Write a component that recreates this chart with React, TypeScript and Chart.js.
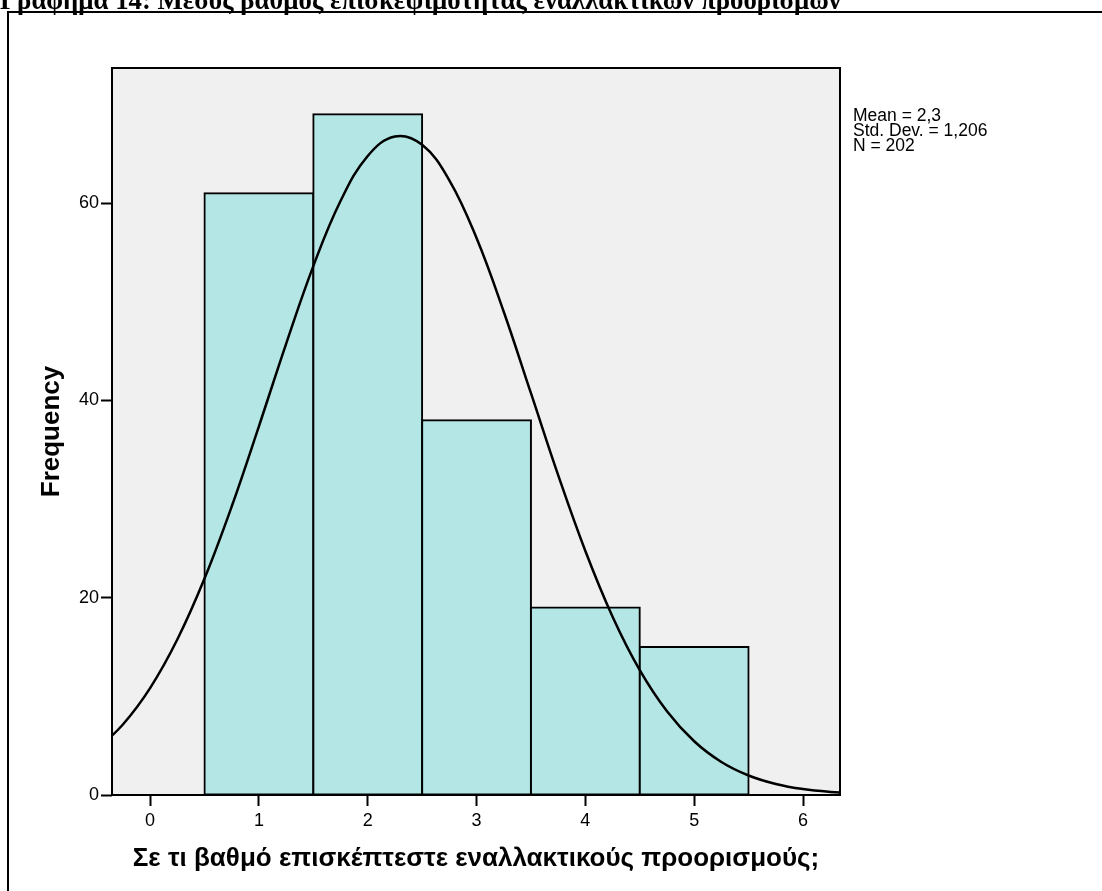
import React, { useEffect, useRef } from "react";
import { Chart, registerables } from "chart.js";

Chart.register(...registerables);

// ---- Data ----
const chartTitle = "Γράφημα 14: Μέσος βαθμός επισκεψιμότητας εναλλακτικών προορισμών";
const xAxisTitle = "Σε τι βαθμό επισκέπτεστε εναλλακτικούς προορισμούς;";
const yAxisTitle = "Frequency";
const binCenters = [1, 2, 3, 4, 5];
const frequencies = [61, 69, 38, 19, 15];
const curveX = [-0.5, -0.25, 0, 0.25, 0.5, 0.75, 1, 1.25, 1.5, 1.75, 2, 2.25, 2.5, 2.75, 3, 3.25, 3.5, 3.75, 4, 4.25, 4.5, 4.75, 5, 5.25, 5.5, 5.75, 6, 6.25, 6.5];
const curveY = [4.51, 7.15, 10.84, 15.76, 21.94, 29.25, 37.38, 45.74, 53.62, 60.22, 64.78, 66.76, 65.91, 62.32, 56.46, 48.99, 40.73, 32.43, 24.74, 18.08, 12.66, 8.49, 5.45, 3.35, 1.98, 1.12, 0.6, 0.31, 0.16];
const xTicks = [0, 1, 2, 3, 4, 5, 6];
const yTicks = [0, 20, 40, 60];
const statsLines = ["Mean = 2,3", "Std. Dev. = 1,206", "N = 202"];

const W = 1102;
const H = 891;
const SANS = "'Liberation Sans', Arial, sans-serif";
const SERIF = "'Liberation Serif', 'Times New Roman', serif";

const decorPlugin = {
  id: "decor",
  beforeDraw(chart: any) {
    const { ctx, chartArea } = chart;
    ctx.save();
    ctx.fillStyle = "#ffffff";
    ctx.fillRect(0, 0, chart.width, chart.height);
    ctx.fillStyle = "#f0f0f0";
    ctx.fillRect(chartArea.left, chartArea.top, chartArea.right - chartArea.left, chartArea.bottom - chartArea.top);
    ctx.restore();
  },
  afterDraw(chart: any) {
    const { ctx, chartArea } = chart;
    ctx.save();
    // plot frame
    ctx.strokeStyle = "#000";
    ctx.lineWidth = 2;
    ctx.strokeRect(chartArea.left, chartArea.top, chartArea.right - chartArea.left, chartArea.bottom - chartArea.top);
    // outer frame
    ctx.beginPath();
    ctx.moveTo(8, H + 2);
    ctx.lineTo(8, 12);
    ctx.lineTo(W + 2, 12);
    ctx.stroke();
    // title (cropped at top)
    ctx.fillStyle = "#000";
    ctx.font = `bold 26.8px ${SERIF}`;
    ctx.textAlign = "left";
    ctx.textBaseline = "alphabetic";
    ctx.fillText(chartTitle, 0, 9);
    // stats
    ctx.font = `17.5px ${SANS}`;
    statsLines.forEach((s, i) => ctx.fillText(s, chartArea.right + 13, 121 + i * 15.2));
    ctx.restore();
  },
};

export default function App() {
  const ref = useRef<HTMLCanvasElement | null>(null);

  useEffect(() => {
    if (!ref.current) return;
    const chart = new Chart(ref.current, {
      type: "bar",
      data: {
        datasets: [
          {
            type: "line",
            data: curveX.map((x, i) => ({ x, y: curveY[i] })),
            borderColor: "#000",
            borderWidth: 2.5,
            pointRadius: 0,
            tension: 0.4,
            fill: false,
            order: 0,
          } as any,
          {
            type: "bar",
            data: binCenters.map((x, i) => ({ x, y: frequencies[i] })),
            backgroundColor: "#b4e6e6",
            borderColor: "#000",
            borderWidth: 2,
            inflateAmount: 1,
            borderSkipped: false,
            barPercentage: 1,
            categoryPercentage: 1,
            order: 1,
          } as any,
        ],
      },
      options: {
        responsive: false,
        animation: false,
        layout: { padding: { left: 0, top: 68, right: W - 840, bottom: 0 } },
        plugins: { legend: { display: false }, tooltip: { enabled: false }, title: { display: false } },
        scales: {
          x: {
            type: "linear",
            min: -0.35,
            max: 6.34,
            offset: false,
            afterBuildTicks: (scale: any) => {
              scale.ticks = xTicks.map((v) => ({ value: v }));
            },
            afterFit: (scale: any) => {
              scale.height = H - 795;
            },
            grid: { display: true, offset: false, drawOnChartArea: false, drawTicks: true, tickLength: 11, tickColor: "#000", tickWidth: 2 },
            border: { display: false },
            ticks: { color: "#000", font: { family: SANS, size: 18 }, padding: 4, autoSkip: false, maxRotation: 0 },
            title: { display: true, text: xAxisTitle, color: "#000", font: { family: SANS, size: 26, weight: "bold" }, padding: { top: 0, bottom: 16.9 } },
          },
          y: {
            type: "linear",
            min: 0,
            max: 73.7,
            afterBuildTicks: (scale: any) => {
              scale.ticks = yTicks.map((v) => ({ value: v }));
            },
            afterFit: (scale: any) => {
              scale.width = 112;
            },
            grid: { display: true, drawOnChartArea: false, drawTicks: true, tickLength: 11, tickColor: "#000", tickWidth: 2 },
            border: { display: false },
            ticks: { color: "#000", font: { family: SANS, size: 18 }, padding: 2, autoSkip: false },
            title: { display: true, text: yAxisTitle, color: "#000", font: { family: SANS, size: 26, weight: "bold" }, padding: { top: 36.4, bottom: 0 } },
          },
        },
      } as any,
      plugins: [decorPlugin],
    });
    return () => chart.destroy();
  }, []);

  return (
    <div style={{ position: "fixed", left: 0, top: 0, width: W, height: H, background: "#fff", overflow: "hidden" }}>
      <canvas ref={ref} width={W} height={H} style={{ display: "block", width: W, height: H }} />
    </div>
  );
}
